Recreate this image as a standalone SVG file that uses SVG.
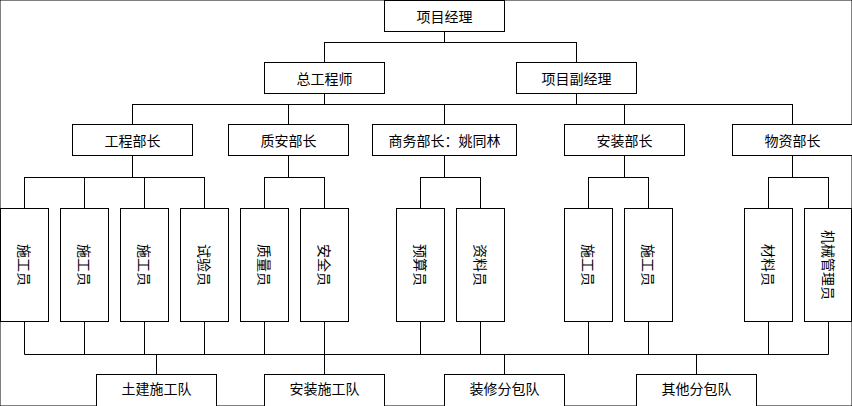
<svg xmlns="http://www.w3.org/2000/svg" width="852" height="406" viewBox="0 0 852 406">
<style>
rect{fill:#fff;stroke:#000;stroke-width:1}
text{font-family:"Noto Sans CJK SC","Liberation Sans",sans-serif;font-size:14px;fill:#000;text-anchor:middle;dominant-baseline:central}
.v{writing-mode:vertical-rl;text-orientation:sideways}
#c path{fill:none;stroke:#000;stroke-width:1}
</style>
<rect width="852" height="406" fill="#fff" stroke="none"/>
<g id="c"><path d="M444.5 31V42.5M324.5 42.5H576.5M324.5 42V62M576.5 42V62M324.5 93V104.5M576.5 93V104.5M132.5 104.5H792.5M132.5 104V124M288.5 104V124M444.5 104V124M624.5 104V124M792.5 104V124
M132.5 156V177.5M24.5 177.5H204.5M24.5 177V208M84.5 177V208M144.5 177V208M204.5 177V208
M288.5 156V177.5M264.5 177.5H324.5M264.5 177V208M324.5 177V208
M444.5 156V177.5M420.5 177.5H480.5M420.5 177V208M480.5 177V208
M624.5 156V177.5M588.5 177.5H648.5M588.5 177V208M648.5 177V208
M792.5 156V177.5M768.5 177.5H828.5M768.5 177V208M828.5 177V208
M24.5 322V354.5M84.5 322V354.5M144.5 322V354.5M204.5 322V354.5M264.5 322V354.5M324.5 322V354.5M420.5 322V354.5M480.5 322V354.5M588.5 322V354.5M648.5 322V354.5M768.5 322V354.5M828.5 322V354.5M24.5 354.5H828.5
M156.5 354V374M324.5 354V374M504.5 354V374M696.5 354V374"/></g>
<g id="n1"><rect x="384.5" y="0.5" width="120" height="31"/><text x="444.5" y="16">项目经理</text></g>
<g id="n2"><rect x="264.5" y="62.5" width="120" height="31"/><text x="324.5" y="78">总工程师</text></g>
<g id="n3"><rect x="516.5" y="62.5" width="120" height="31"/><text x="576.5" y="78">项目副经理</text></g>
<g id="n4"><rect x="72.5" y="124.5" width="120" height="31"/><text x="132.5" y="140">工程部长</text></g>
<g id="n5"><rect x="228.5" y="124.5" width="120" height="31"/><text x="288.5" y="140">质安部长</text></g>
<g id="n6"><rect x="372.5" y="124.5" width="144" height="31"/><text x="444.5" y="140">商务部长：姚同林</text></g>
<g id="n7"><rect x="564.5" y="124.5" width="120" height="31"/><text x="624.5" y="140">安装部长</text></g>
<g id="n8"><rect x="732.5" y="124.5" width="120" height="31"/><text x="792.5" y="140">物资部长</text></g>
<g id="b1"><rect x="0.5" y="208.5" width="48" height="113"/><text class="v" x="24.5" y="265">施工员</text></g>
<g id="b2"><rect x="60.5" y="208.5" width="48" height="113"/><text class="v" x="84.5" y="265">施工员</text></g>
<g id="b3"><rect x="120.5" y="208.5" width="48" height="113"/><text class="v" x="144.5" y="265">施工员</text></g>
<g id="b4"><rect x="180.5" y="208.5" width="48" height="113"/><text class="v" x="204.5" y="265">试验员</text></g>
<g id="b5"><rect x="240.5" y="208.5" width="48" height="113"/><text class="v" x="264.5" y="265">质量员</text></g>
<g id="b6"><rect x="300.5" y="208.5" width="48" height="113"/><text class="v" x="324.5" y="265">安全员</text></g>
<g id="b7"><rect x="396.5" y="208.5" width="48" height="113"/><text class="v" x="420.5" y="265">预算员</text></g>
<g id="b8"><rect x="456.5" y="208.5" width="48" height="113"/><text class="v" x="480.5" y="265">资料员</text></g>
<g id="b9"><rect x="564.5" y="208.5" width="48" height="113"/><text class="v" x="588.5" y="265">施工员</text></g>
<g id="b10"><rect x="624.5" y="208.5" width="48" height="113"/><text class="v" x="648.5" y="265">施工员</text></g>
<g id="b11"><rect x="744.5" y="208.5" width="48" height="113"/><text class="v" x="768.5" y="265">材料员</text></g>
<g id="b12"><rect x="804.5" y="208.5" width="47" height="113"/><text class="v" x="828.5" y="265">机械管理员</text></g>
<g id="t1"><rect x="96.5" y="374.5" width="120" height="40"/><text x="156.5" y="388">土建施工队</text></g>
<g id="t2"><rect x="264.5" y="374.5" width="120" height="40"/><text x="324.5" y="388">安装施工队</text></g>
<g id="t3"><rect x="444.5" y="374.5" width="120" height="40"/><text x="504.5" y="388">装修分包队</text></g>
<g id="t4"><rect x="636.5" y="374.5" width="120" height="40"/><text x="696.5" y="388">其他分包队</text></g>
</svg>
